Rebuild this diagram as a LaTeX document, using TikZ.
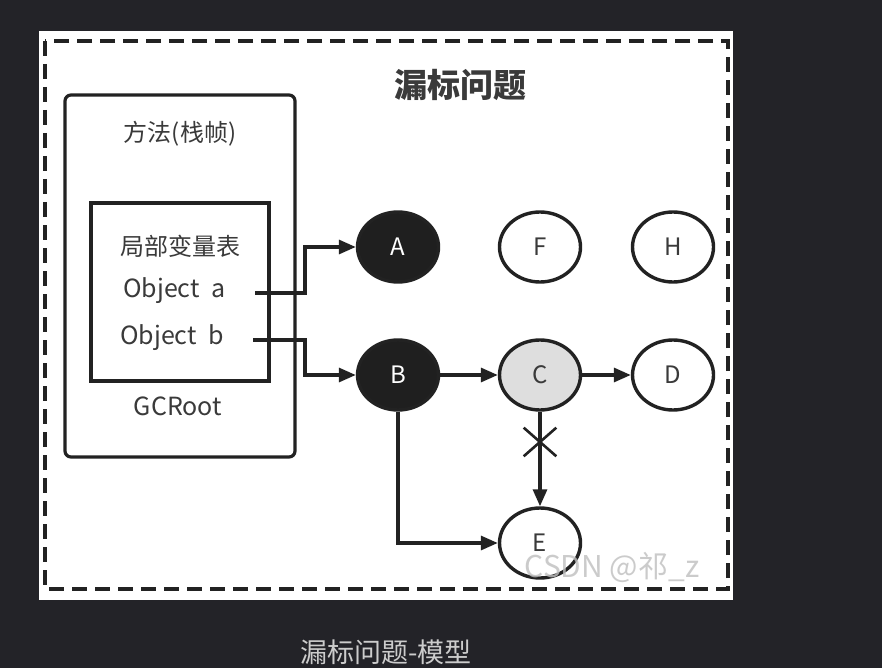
\documentclass[tikz,border=0pt]{standalone}
\usepackage{fontspec}
\setmainfont{Noto Sans CJK SC}
\usetikzlibrary{positioning,shapes.geometric,shapes.misc,arrows.meta}
\definecolor{bgdark}{HTML}{232328}
\definecolor{ink}{HTML}{222222}
\definecolor{txt}{HTML}{3A3A3A}
\definecolor{marked}{HTML}{1F1F1F}
\definecolor{greyfill}{HTML}{DEDEDE}
\tikzset{obj/.style={shape=ellipse,draw=ink,line width=3.4pt,minimum width=81pt,
        minimum height=70pt,inner sep=0pt,font=\fontsize{24}{24}\selectfont,text=txt},
  black obj/.style={obj,fill=marked,text=white},
  grey obj/.style={obj,fill=greyfill},
  refarrow/.style={draw=ink,line width=3.2pt,-{Triangle[length=17pt,width=14pt]}},
  lbl/.style={font=\fontsize{24}{24}\selectfont,text=txt,inner sep=0pt},
  latin/.style={lbl,font=\fontsize{25}{25}\selectfont}}

\begin{document}
\begin{tikzpicture}[x=1pt,y=-1pt]
  \useasboundingbox[fill=bgdark] (0,0) rectangle (882,668);
  \fill[white] (39,31) rectangle (733,600);
  \draw[ink,line width=3.6pt,dash pattern=on 15pt off 8pt] (45,41) rectangle (728,589);
  \node[font=\fontsize{33}{33}\selectfont\bfseries,text=txt] (title) at (460,85) {漏标问题};
  %% stack frame
  \draw[ink,line width=3.2pt,rounded corners=6pt] (65,95) rectangle (295,457);
  \draw[ink,line width=3.2pt] (91,203) rectangle (269,381);
  \node[lbl] (frame) at (180,134) {方法(栈帧)};
  \node[lbl] (table) at (180,246) {局部变量表};
  \node[latin,anchor=west] (obja) at (123,291) {Object\ \ a};
  \node[latin,anchor=west] (objb) at (120,338) {Object\ \ b};
  \node[latin] (root) at (178,406) {GCRoot};
  %% objects
  \node[black obj] (A) at (398,247) {A};
  \node[obj]       (F) at (540,247) {F};
  \node[obj]       (H) at (673,247) {H};
  \node[black obj] (B) at (398,375) {B};
  \node[grey obj]  (C) at (540,375) {C};
  \node[obj]       (D) at (673,375) {D};
  \node[obj]       (E) at (540,543) {E};
  %% references
  \draw[refarrow] ([xshift=132pt,yshift=-2pt]obja.west) -- ++(50,0) |- (A);
  \draw[refarrow] ([xshift=133pt,yshift=-2pt]objb.west) -- ++(52,0) |- (B);
  \draw[refarrow] (B) -- (C);
  \draw[refarrow] (C) -- (D);
  \draw[refarrow] (C) -- node[pos=0.32,draw=ink,arrows=-,cross out,line width=2.6pt,
        minimum width=30pt,minimum height=26pt]{} (E);
  \draw[refarrow] (B) |- (E);
  %% watermark and caption
  \node[font=\fontsize{30}{30}\selectfont,text=gray!50,opacity=.8] (mark)
       at (612,567) {CSDN @祁\_z};
  \node[font=\fontsize{27}{27}\selectfont,text=gray!40!white] (caption)
       at (386,652) {漏标问题-模型};
\end{tikzpicture}
\end{document}
